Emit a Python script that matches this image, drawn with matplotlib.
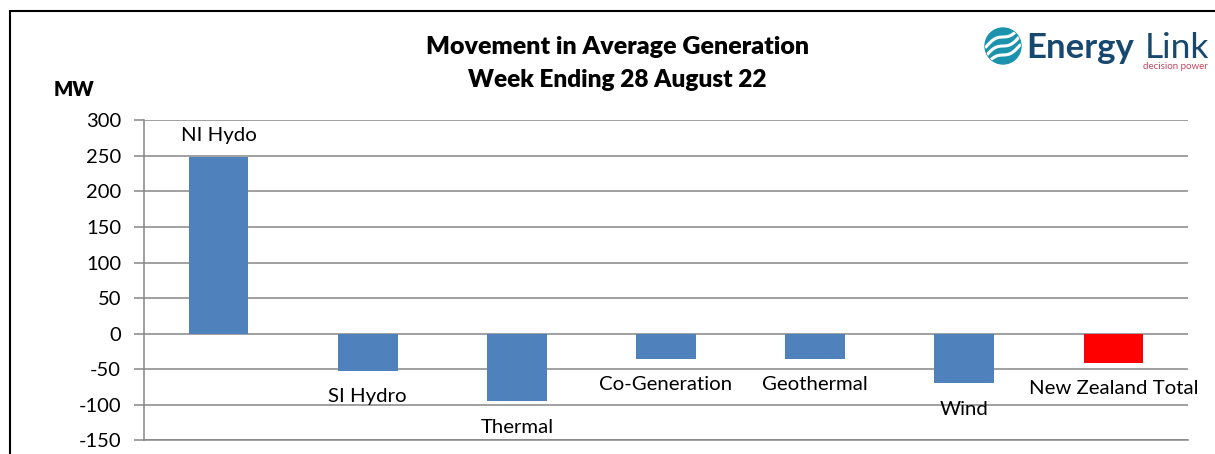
import numpy as np
import matplotlib
matplotlib.use('Agg')
from matplotlib import pyplot as plt
from matplotlib.patches import Circle

categories = ['NI Hydo', 'SI Hydro', 'Thermal', 'Co-Generation', 'Geothermal', 'Wind', 'New Zealand Total']
values = [248, -52, -95, -35, -35, -70, -41]
bar_colors = ['#4F81BD', '#4F81BD', '#4F81BD', '#4F81BD', '#4F81BD', '#4F81BD', '#FF0000']
y_ticks = [300, 250, 200, 150, 100, 50, 0, -50, -100, -150]

W, H = 1215, 454
plt.rcParams['font.family'] = ['Lato', 'DejaVu Sans']
plt.rcParams['axes.unicode_minus'] = False
fig = plt.figure(figsize=(W / 100, H / 100), dpi=100)

# pixel overlay for frame, title and logo
bg = fig.add_axes([0, 0, 1, 1])
bg.set_xlim(0, W)
bg.set_ylim(H, 0)
bg.axis('off')
bg.plot([9.5, 9.5, W], [H, 10.5, 10.5], color='black', lw=1.5, solid_joinstyle='miter')
bg.text(617.5, 47, 'Movement in Average Generation', ha='center', va='center', fontsize=18, fontweight=800, color='black')
bg.text(617.5, 80, 'Week Ending 28 August 22', ha='center', va='center', fontsize=17.6, fontweight=800, color='black')
bg.text(54, 89, 'MW', ha='left', va='center', fontsize=14.5, fontweight=800, color='black')

# logo
logo = Circle((1003, 46), 18, color='#1B93AD', zorder=3)
bg.add_patch(logo)
t = np.linspace(-1, 1, 40)
for off in [-9, 0, 9]:
    wave, = bg.plot(1003 + 17 * t, 46 + off - 10 * t + 3 * np.sin(np.pi * t),
                    color='white', lw=2.2, zorder=4, solid_capstyle='round')
    wave.set_clip_path(logo)
bg.text(1026, 48, 'Energy', ha='left', va='center', fontsize=25, fontweight='bold', color='#17486F')
bg.text(1145, 48, 'Link', ha='left', va='center', fontsize=25.5, color='#17486F')
bg.text(1208, 66.5, 'decision power', ha='right', va='center', fontsize=7, color='#C2485F')

ax = fig.add_axes([144 / W, (H - 440.4) / H, (1188 - 144) / W, (440.4 - 120.3) / H])
ax.patch.set_alpha(0)
x = np.arange(len(categories))
ax.bar(x, values, width=0.4, color=bar_colors, zorder=3)
ax.set_xlim(-0.5, len(categories) - 0.5)
ax.set_ylim(-150, 300)
ax.set_yticks(y_ticks)
ax.set_xticks([])
ax.grid(axis='y', color='#868686', lw=1.1, zorder=1)
ax.tick_params(axis='y', length=7, width=1.1, color='#868686', labelsize=14.5, pad=9.5, labelcolor='black')
for s in ['top', 'right']:
    ax.spines[s].set_visible(False)
ax.spines['left'].set_color('#868686')
ax.spines['bottom'].set_color('#868686')
ax.spines['left'].set_linewidth(1.1)
ax.spines['bottom'].set_linewidth(1.1)

for i, v in enumerate(values):
    off = 22 if v > 0 else -26
    ax.annotate(categories[i], (i, v), xytext=(0, off * 0.72), textcoords='offset points',
                ha='center', va='center', fontsize=14.7, color='black', zorder=5)

fig.savefig('out.png', dpi=100)
plt.close()
